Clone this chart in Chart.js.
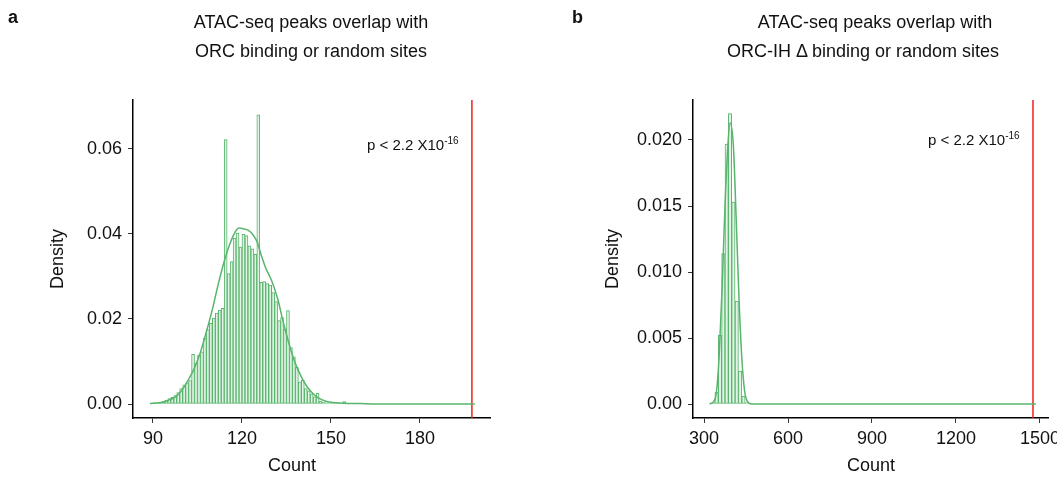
<!DOCTYPE html>
<html>
<head>
<meta charset="utf-8">
<script src="https://cdn.jsdelivr.net/npm/chart.js@4.4.0/dist/chart.umd.min.js"></script>
<style>
    body { margin: 0; background: #fff; width: 1057px; height: 479px; position: relative; overflow: hidden;
           font-family: "Liberation Sans", Arial, sans-serif; color: #111; }
    canvas { position: absolute; top: 0; }
    .txt { position: absolute; white-space: nowrap; font-size: 18px; line-height: 18px; }
    .mid { transform: translateX(-50%); }
    .panel { font-weight: bold; }
    .pval { font-size: 15px; line-height: 15px; }
    .pval sup { font-size: 10px; vertical-align: 6px; line-height: 0; }
    .ylab { transform: translate(-50%, -50%) rotate(-90deg); }
</style>
</head>
<body>
<canvas id="chartA" width="530" height="479" style="left:0"></canvas>
<canvas id="chartB" width="545" height="479" style="left:530px"></canvas>

<div class="txt panel" style="left:8px; top:8px">a</div>
<div class="txt panel" style="left:572px; top:8px">b</div>

<div class="txt mid" style="left:311px; top:13px">ATAC-seq peaks overlap with</div>
<div class="txt mid" style="left:311px; top:42px">ORC binding or random sites</div>
<div class="txt mid" style="left:875px; top:13px">ATAC-seq peaks overlap with</div>
<div class="txt mid" style="left:863px; top:42px">ORC-IH Δ binding or random sites</div>

<div class="txt pval" style="left:367px; top:137px">p &lt; 2.2 X10<sup>-16</sup></div>
<div class="txt pval" style="left:928px; top:132px">p &lt; 2.2 X10<sup>-16</sup></div>

<div class="txt ylab" style="left:57px; top:259px">Density</div>
<div class="txt ylab" style="left:612px; top:259px">Density</div>
<div class="txt mid" style="left:292px; top:456px">Count</div>
<div class="txt mid" style="left:871px; top:456px">Count</div>

<script>
// Panel a: randomised ORC overlap counts (bin width 1, left edges)
const binsA = [89, 90, 91, 92, 93, 94, 95, 96, 97, 98, 99, 100, 101, 102, 103, 104, 105, 106, 107, 108,
    109, 110, 111, 112, 113, 114, 115, 116, 117, 118, 119, 120, 121, 122, 123, 124, 125, 126, 127, 128,
    129, 130, 131, 132, 133, 134, 135, 136, 137, 138, 139, 140, 141, 142, 143, 144, 145, 146, 147, 148,
    149, 150, 151, 152, 153, 154, 155];
const densA = [0.0002, 0.0003, 0.0002, 0.0004, 0.0006, 0.0009, 0.0013, 0.0016, 0.0020, 0.0027, 0.0036,
    0.0045, 0.0050, 0.0055, 0.0117, 0.0096, 0.0115, 0.0123, 0.0155, 0.0175, 0.0190, 0.0202, 0.0214, 0.0221,
    0.0225, 0.0622, 0.0307, 0.0335, 0.0390, 0.0402, 0.0369, 0.0399, 0.0396, 0.0372, 0.0365, 0.0352, 0.0680,
    0.0286, 0.0288, 0.0283, 0.0280, 0.0262, 0.0241, 0.0196, 0.0203, 0.0176, 0.0220, 0.0133, 0.0111, 0.0086,
    0.0052, 0.0056, 0.0036, 0.0031, 0.0024, 0.0017, 0.0026, 0.0007, 0.0004, 0.0003, 0.0002, 0.0002, 0.0001,
    0.0001, 0.0001, 0.0006, 0.0001];
const curveXA = [89, 92, 94, 96, 98, 100, 102, 104, 106, 108, 110, 112, 114, 116, 118, 119, 120, 122,
    123.5, 125, 126.5, 128, 130, 132, 134, 136, 138, 140, 142, 144, 146, 148, 150, 154, 160, 170, 198.5];
const curveYA = [0.0001, 0.0003, 0.0006, 0.0011, 0.0019, 0.0035, 0.0058, 0.0085, 0.0122, 0.0170, 0.0222,
    0.0282, 0.0335, 0.0378, 0.0408, 0.0414, 0.0413, 0.0409, 0.0400, 0.0383, 0.0350, 0.0320, 0.0290, 0.0248,
    0.0190, 0.0138, 0.0095, 0.0064, 0.0040, 0.0024, 0.0013, 0.0007, 0.0004, 0.0002, 0.0001, 0, 0];
const observedA = 197.5;
const ticksXA = [90, 120, 150, 180];
const ticksYA = [0, 0.02, 0.04, 0.06];

// Panel b: randomised ORC-IH delta overlap counts (bin width 12, left edges)
const binsB = [327, 339, 351, 363, 375, 387, 399, 411, 423, 435, 447];
const densB = [0.0001, 0.0009, 0.0052, 0.0114, 0.0197, 0.0220, 0.0153, 0.0078, 0.0025, 0.0006, 0.0001];
const curveXB = [320, 335, 345, 355, 365, 375, 385, 393, 405, 415, 425, 435, 445, 455, 470, 1485];
const curveYB = [0, 0.0002, 0.0010, 0.0040, 0.0090, 0.0150, 0.0195, 0.0213, 0.0195, 0.0140, 0.0080,
    0.0035, 0.0010, 0.0002, 0, 0];
const observedB = 1475;
const ticksXB = [300, 600, 900, 1200, 1500];
const ticksYB = [0, 0.005, 0.01, 0.015, 0.02];

const GREEN = '#57b56c';
const RED = '#f01e1e';
const FONT = { family: '"Liberation Sans", Arial, sans-serif', size: 18 };

function drawHist(id, cfg) {
    const bars = cfg.bins.map((b, i) => ({ x: b + cfg.width / 2, y: cfg.dens[i] }));
    const curve = cfg.curveX.map((x, i) => ({ x: x, y: cfg.curveY[i] }));
    const obsLine = [{ x: cfg.observed, y: cfg.yRange[0] }, { x: cfg.observed, y: cfg.yRange[1] }];

    new Chart(document.getElementById(id).getContext('2d'), {
        type: 'bar',
        data: {
            datasets: [
                {
                    type: 'line', data: curve, borderColor: GREEN, borderWidth: 1.5,
                    pointRadius: 0, cubicInterpolationMode: 'monotone', order: 0
                },
                {
                    type: 'line', data: obsLine, borderColor: RED, borderWidth: 1.5,
                    pointRadius: 0, order: 0
                },
                {
                    type: 'bar', data: bars, backgroundColor: '#e3f3e6', borderColor: GREEN,
                    borderWidth: 1, borderSkipped: false, barPercentage: 1, categoryPercentage: 1,
                    grouped: false, order: 1
                }
            ]
        },
        options: {
            responsive: false,
            animation: false,
            layout: { padding: cfg.padding },
            plugins: { legend: { display: false }, tooltip: { enabled: false } },
            scales: {
                x: {
                    type: 'linear', min: cfg.xRange[0], max: cfg.xRange[1], offset: false,
                    border: { color: '#000', width: 1.5 },
                    grid: { offset: false, drawOnChartArea: false, drawTicks: true, tickLength: 5, color: '#333' },
                    ticks: {
                        font: FONT, color: '#111', padding: 5, maxRotation: 0, autoSkip: false,
                        callback: v => String(v)
                    },
                    afterBuildTicks: s => { s.ticks = cfg.ticksX.map(v => ({ value: v })); },
                    afterFit: s => { s.height = 40; }
                },
                y: {
                    min: cfg.yRange[0], max: cfg.yRange[1],
                    border: { color: '#000', width: 1.5 },
                    grid: { drawOnChartArea: false, drawTicks: true, tickLength: 5, color: '#333' },
                    ticks: {
                        font: FONT, color: '#111', padding: 6,
                        callback: v => v === 0 ? '0.00' : v.toFixed(cfg.decimals)
                    },
                    afterBuildTicks: s => { s.ticks = cfg.ticksY.map(v => ({ value: v })); },
                    afterFit: s => { s.width = 73; }
                }
            }
        }
    });
}

drawHist('chartA', {
    bins: binsA, dens: densA, width: 1, curveX: curveXA, curveY: curveYA, observed: observedA,
    ticksX: ticksXA, ticksY: ticksYA, decimals: 2,
    xRange: [83.26, 203.6], yRange: [-0.00329, 0.0715],
    padding: { left: 60, right: 40, top: 100, bottom: 21 }
});

drawHist('chartB', {
    bins: binsB, dens: densB, width: 12, curveX: curveXB, curveY: curveYB, observed: observedB,
    ticksX: ticksXB, ticksY: ticksYB, decimals: 3,
    xRange: [260.7, 1528.6], yRange: [-0.00106, 0.02303],
    padding: { left: 90, right: 27, top: 100, bottom: 21 }
});
</script>
</body>
</html>
